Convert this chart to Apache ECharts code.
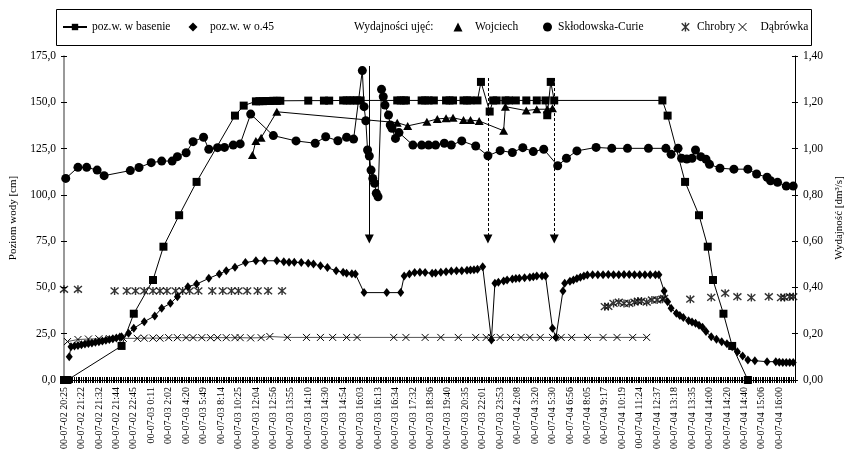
<!DOCTYPE html>
<html>
<head>
<meta charset="utf-8">
<script src="https://cdn.jsdelivr.net/npm/echarts@6/dist/echarts.min.js"></script>
<style>
  html, body { margin: 0; padding: 0; background: #fff; }
  #chart { width: 853px; height: 457px; }
</style>
</head>
<body>
<div id="chart"></div>
<script>
// tick labels, one for every 10th measurement
const tickLabels = [
  '00-07-02 20:25', '00-07-02 21:22', '00-07-02 21:32', '00-07-02 21:44', '00-07-02 22:45',
  '00-07-03 0:11', '00-07-03 2:02', '00-07-03 4:20', '00-07-03 5:49', '00-07-03 8:14',
  '00-07-03 10:25', '00-07-03 12:04', '00-07-03 12:56', '00-07-03 13:55', '00-07-03 14:10',
  '00-07-03 14:30', '00-07-03 14:54', '00-07-03 16:03', '00-07-03 16:13', '00-07-03 16:34',
  '00-07-03 17:32', '00-07-03 18:36', '00-07-03 19:40', '00-07-03 20:35', '00-07-03 22:01',
  '00-07-03 23:53', '00-07-04 2:08', '00-07-04 3:20', '00-07-04 5:30', '00-07-04 6:56',
  '00-07-04 8:05', '00-07-04 9:17', '00-07-04 10:19', '00-07-04 11:24', '00-07-04 12:37',
  '00-07-04 13:18', '00-07-04 13:35', '00-07-04 14:00', '00-07-04 14:20', '00-07-04 14:40',
  '00-07-04 15:06', '00-07-04 16:00'
];
const nCategories = 420;

// [measurement index, value]
// poz.w. w basenie [cm]
const basen = [
  [0, 0], [2, 0], [33, 18.4], [40, 35.8], [51, 54], [57, 72], [66, 89], [76, 107], [98, 142.8], [103, 148.2],
  [110, 150.5], [112, 150.6], [114, 150.6], [116, 150.7], [118, 150.7], [120, 150.8], [122, 150.8], [124, 150.8],
  [140, 150.9], [149, 150.9], [152, 150.9],
  [160, 151], [162, 151], [164, 151], [166, 151], [168, 151], [170, 151],
  [191, 151], [193, 151], [195, 151], [196, 151],
  [205, 151], [207, 151], [209, 151], [212, 151],
  [219, 151], [221, 151], [223, 151],
  [229, 151], [231, 151], [233, 151],
  [237, 151], [239, 161], [244, 145], [246, 151], [248, 151],
  [253, 151], [255, 151], [259, 151], [265, 151], [271, 151],
  [276, 151], [277, 143], [279, 161], [281, 151],
  [343, 151], [346, 142.8], [356, 107], [364, 89], [369, 72], [372, 54], [378, 35.8], [383, 18.4], [392, 0]
];

// poz.w. w o.45 [cm]
const o45 = [
  [3, 12.6], [4, 18.0], [6, 18.4], [8, 18.7], [10, 19.0], [12, 19.4], [14, 19.7], [16, 20.0], [18, 20.4],
  [20, 20.7], [22, 21.1], [24, 21.5], [26, 21.9], [28, 22.3], [30, 22.7], [32, 23.2], [33, 23.4], [37, 25.2],
  [40, 27.9], [46, 31.5], [52, 34.6], [56, 38.7], [61, 41.4], [65, 45], [71, 50.4], [76, 51.8], [83, 54.9],
  [89, 57.3], [93, 59], [98, 60.9], [104, 63.4], [110, 64.4], [115, 64.4], [122, 64.4], [126, 63.9], [129, 63.6],
  [132, 63.6], [136, 63.4], [140, 63], [143, 62.6], [147, 61.7], [151, 60.7], [156, 59], [160, 58.2], [162, 57.6],
  [165, 57.4], [167, 57.3], [172, 47.2], [185, 47.2], [193, 47.2], [195, 56.2], [198, 57.2], [201, 58], [204, 58.2],
  [207, 58], [211, 57.6], [213, 57.8], [216, 58.2], [219, 58.5], [222, 58.9], [225, 59], [228, 59], [231, 59.3],
  [233, 59.4], [235, 59.6], [237, 59.8], [240, 61.2], [245, 21.6], [247, 52.2], [249, 52.8], [252, 53.5], [254, 54],
  [257, 54.6], [259, 54.8], [261, 54.9], [264, 55.2], [267, 55.5], [269, 55.8], [271, 56.2], [274, 56.2], [276, 56.2],
  [280, 27.9], [282, 23], [286, 48.1], [287, 52.2], [290, 53.4], [292, 54], [294, 54.8], [296, 55.5], [298, 56.2],
  [300, 56.7], [303, 56.8], [306, 56.9], [309, 56.9], [312, 57], [315, 56.9], [318, 56.9], [321, 57], [324, 57],
  [327, 56.9], [330, 56.9], [333, 56.9], [336, 56.9], [339, 56.9], [341, 56.8], [344, 48.1], [346, 42.3], [348, 38.7],
  [351, 36], [353, 34.8], [355, 33.8], [358, 32], [360, 31.3], [362, 30.6], [364, 29.6], [366, 28.5], [368, 26.2],
  [371, 23.4], [374, 22], [377, 20.7], [380, 19.6], [383, 18], [386, 15.3], [389, 13], [392, 10.8], [396, 10.4],
  [403, 9.9], [408, 9.9], [410, 9.6], [412, 9.5], [414, 9.5], [416, 9.5], [418, 9.4]
];

// Wydajnosc [dm3/s]
const wojciech = [
  [108, 0.972], [110, 1.033], [113, 1.047], [122, 1.159], [191, 1.112], [197, 1.098], [208, 1.116], [214, 1.128],
  [219, 1.131], [223, 1.133], [229, 1.123], [233, 1.123], [238, 1.119], [252, 1.077], [253, 1.181], [265, 1.164],
  [271, 1.17], [277, 1.17], [280, 1.174]
];

const sklodowska = [
  [1, 0.871], [8, 0.919], [13, 0.919], [19, 0.907], [23, 0.883], [38, 0.905], [43, 0.918], [50, 0.939], [56, 0.946],
  [62, 0.946], [65, 0.965], [70, 0.982], [74, 1.03], [80, 1.049], [83, 0.997], [88, 1.004], [92, 1.005], [97, 1.015],
  [101, 1.02], [107, 1.149], [120, 1.056], [133, 1.033], [144, 1.023], [150, 1.051], [157, 1.034], [162, 1.049],
  [166, 1.041], [171, 1.337], [172, 1.181], [173, 1.12], [174, 0.994], [175, 0.968], [176, 0.907], [177, 0.871],
  [178, 0.85], [179, 0.807], [180, 0.792], [182, 1.256], [183, 1.224], [184, 1.188], [186, 1.145], [187, 1.102],
  [188, 1.088], [190, 1.044], [192, 1.069], [200, 1.015], [205, 1.015], [209, 1.015], [213, 1.015], [218, 1.023],
  [222, 1.015], [228, 1.033], [236, 1.011], [243, 0.969], [250, 0.991], [257, 0.983], [263, 1.004], [269, 0.987],
  [275, 0.997], [283, 0.926], [288, 0.958], [294, 0.99], [305, 1.005], [314, 1.001], [323, 1.001], [335, 1.001],
  [345, 1.001], [348, 0.975], [352, 1.001], [354, 0.958], [357, 0.955], [360, 0.958], [362, 0.994], [365, 0.965],
  [368, 0.954], [370, 0.932], [376, 0.915], [384, 0.911], [392, 0.911], [397, 0.89], [403, 0.876], [405, 0.861],
  [409, 0.854], [414, 0.838], [418, 0.838]
];

const chrobry = [
  [0, 0.392], [8, 0.392], [29, 0.385], [36, 0.385], [41, 0.385], [46, 0.385], [51, 0.385], [55, 0.385], [59, 0.385],
  [64, 0.385], [68, 0.385], [72, 0.385], [77, 0.385], [85, 0.385], [91, 0.385], [96, 0.385], [100, 0.385],
  [105, 0.385], [111, 0.385], [117, 0.385], [125, 0.385],
  [310, 0.317], [312, 0.318], [315, 0.331], [318, 0.336], [321, 0.331], [324, 0.331], [327, 0.336], [329, 0.341],
  [331, 0.341], [334, 0.336], [337, 0.346], [340, 0.346], [343, 0.349], [344, 0.353], [359, 0.349], [371, 0.357],
  [379, 0.375], [386, 0.36], [394, 0.356], [404, 0.36], [411, 0.356], [413, 0.357], [416, 0.36], [418, 0.36]
];

const dabrowka = [
  [2, 0.166], [8, 0.175], [14, 0.177], [20, 0.178], [26, 0.179], [34, 0.18], [42, 0.18], [46, 0.181], [51, 0.181],
  [55, 0.181], [60, 0.183], [65, 0.183], [70, 0.183], [74, 0.183], [79, 0.183], [84, 0.183], [88, 0.183], [93, 0.183],
  [98, 0.183], [101, 0.183], [107, 0.182], [113, 0.183], [118, 0.188], [128, 0.184], [139, 0.184], [147, 0.184],
  [154, 0.184], [162, 0.184], [168, 0.184], [189, 0.184], [196, 0.184], [207, 0.184], [216, 0.184], [226, 0.184],
  [236, 0.184], [242, 0.184], [245, 0.184], [250, 0.184], [256, 0.184], [262, 0.184], [267, 0.184], [273, 0.184],
  [280, 0.184], [285, 0.184], [291, 0.184], [300, 0.184], [309, 0.184], [317, 0.184], [326, 0.184], [334, 0.184]
];

// arrows: [index, top value, bottom value, dashed]
const arrows = [
  [175, 169.6, 76.2, false],
  [243, 163.1, 76.2, true],
  [281, 163.1, 76.2, true]
];

const FONT = 'Liberation Serif';
const ASTERISK = 'path://M0,0L10,10M10,0L0,10M5,-1L5,11';
const CROSS = 'path://M0,0L10,10M10,0L0,10';

const categories = [];
for (let i = 0; i < nCategories; i++) {
  categories.push(i % 10 === 0 ? tickLabels[i / 10] : '');
}

const strokeOnly = { color: 'transparent', borderColor: '#000', borderWidth: 1 };
const strokeBold = { color: 'transparent', borderColor: '#000', borderWidth: 1.4 };

// one legend per entry so each can sit where the original has it
function legendAt(name, left, itemWidth, textPad, extra) {
  return Object.assign({
    data: [name],
    left: left,
    top: 21,
    padding: 0,
    itemWidth: itemWidth,
    itemHeight: 9,
    selectedMode: false,
    textStyle: { fontFamily: FONT, fontSize: 11.5, color: '#000', padding: [0, 0, 0, textPad] }
  }, extra || {});
}

const chart = echarts.init(document.getElementById('chart'));

const option = {
  animation: false,
  backgroundColor: '#fff',
  textStyle: { fontFamily: FONT },
  graphic: [
    {
      type: 'rect',
      shape: { x: 56.5, y: 9.5, width: 755, height: 36 },
      style: { fill: 'none', stroke: '#000', lineWidth: 1 }
    },
    {
      type: 'text',
      left: 354,
      top: 21,
      style: { text: 'Wydajności ujęć:', font: '11.5px "Liberation Serif"', fill: '#000' }
    }
  ],
  legend: [
    legendAt('poz.w. w basenie', 62, 24, 0, { itemHeight: 8 }),
    legendAt('poz.w. w o.45', 188.5, 9, 7.5, { data: [{ name: 'poz.w. w o.45', icon: 'diamond' }] }),
    legendAt('Wojciech', 453.5, 9, 7.5, { data: [{ name: 'Wojciech', icon: 'triangle' }] }),
    legendAt('Skłodowska-Curie', 543, 9, 1, { data: [{ name: 'Skłodowska-Curie', icon: 'circle' }] }),
    legendAt('Chrobry', 681, 9, 2, { data: [{ name: 'Chrobry', icon: ASTERISK, itemStyle: strokeBold }] }),
    legendAt('Dąbrówka', 738, 8, 9, { itemHeight: 8, data: [{ name: 'Dąbrówka', icon: CROSS, itemStyle: strokeOnly }] })
  ],
  grid: { left: 61, right: 45, top: 56, bottom: 77 },
  xAxis: [
    {
      type: 'category',
      data: categories,
      boundaryGap: false,
      position: 'bottom',
      axisLine: { lineStyle: { color: '#000', width: 1 } },
      axisTick: { interval: 0, length: 3, lineStyle: { color: '#000' } },
      axisLabel: {
        interval: 9,
        rotate: 90,
        margin: 7,
        fontFamily: FONT,
        fontSize: 10,
        color: '#000'
      }
    },
    {
      type: 'category',
      data: categories,
      boundaryGap: false,
      position: 'bottom',
      axisLine: { show: false },
      axisTick: { interval: 0, inside: true, length: 3, lineStyle: { color: '#000' } },
      axisLabel: { show: false }
    }
  ],
  yAxis: [
    {
      type: 'value',
      position: 'left',
      min: 0,
      max: 175,
      interval: 25,
      name: 'Poziom wody [cm]',
      nameLocation: 'middle',
      nameRotate: 90,
      nameGap: 45,
      nameTextStyle: { fontFamily: FONT, fontSize: 11, color: '#000' },
      splitLine: { show: false },
      axisLine: { show: true, lineStyle: { color: '#777', width: 1.5 } },
      axisTick: { show: true, length: 3, lineStyle: { color: '#000' } },
      axisLabel: {
        margin: 8,
        fontFamily: FONT,
        fontSize: 11.5,
        color: '#000',
        formatter: v => v.toFixed(1).replace('.', ',')
      }
    },
    {
      type: 'value',
      position: 'right',
      min: 0,
      max: 1.4,
      interval: 0.2,
      name: 'Wydajność [dm³/s]',
      nameLocation: 'middle',
      nameRotate: 90,
      nameGap: 35,
      nameTextStyle: { fontFamily: FONT, fontSize: 11, color: '#000' },
      splitLine: { show: false },
      axisLine: { show: true, lineStyle: { color: '#000', width: 1 } },
      axisTick: { show: true, length: 3, lineStyle: { color: '#000' } },
      axisLabel: {
        margin: 8,
        fontFamily: FONT,
        fontSize: 11.5,
        color: '#000',
        formatter: v => v.toFixed(2).replace('.', ',')
      }
    },
    {
      type: 'value', position: 'left', min: 0, max: 175, interval: 25,
      splitLine: { show: false }, axisLine: { show: false }, axisLabel: { show: false },
      axisTick: { show: true, inside: true, length: 3, lineStyle: { color: '#000' } }
    },
    {
      type: 'value', position: 'right', min: 0, max: 1.4, interval: 0.2,
      splitLine: { show: false }, axisLine: { show: false }, axisLabel: { show: false },
      axisTick: { show: true, inside: true, length: 3, lineStyle: { color: '#000' } }
    }
  ],
  series: [
    {
      name: 'poz.w. w basenie',
      type: 'line',
      yAxisIndex: 0,
      data: basen,
      symbol: 'rect',
      symbolSize: 8,
      showAllSymbol: true,
      itemStyle: { color: '#000' },
      lineStyle: { color: '#000', width: 1 },
      markLine: {
        silent: true,
        animation: false,
        symbol: ['none', 'triangle'],
        symbolSize: 9,
        label: { show: false },
        data: arrows.map(a => [
          { coord: [a[0], a[1]], lineStyle: { color: '#000', width: 1, type: a[3] ? [3, 2] : 'solid' } },
          { coord: [a[0], a[2]] }
        ])
      }
    },
    {
      name: 'poz.w. w o.45',
      type: 'line',
      yAxisIndex: 0,
      data: o45,
      symbol: 'diamond',
      symbolSize: [7, 9],
      showAllSymbol: true,
      itemStyle: { color: '#000' },
      lineStyle: { color: '#000', width: 1 }
    },
    {
      name: 'Wojciech',
      type: 'line',
      yAxisIndex: 1,
      data: wojciech,
      symbol: 'triangle',
      symbolSize: [9, 8],
      showAllSymbol: true,
      itemStyle: { color: '#000' },
      lineStyle: { color: '#000', width: 1 }
    },
    {
      name: 'Skłodowska-Curie',
      type: 'line',
      yAxisIndex: 1,
      data: sklodowska,
      symbol: 'circle',
      symbolSize: 9,
      showAllSymbol: true,
      itemStyle: { color: '#000' },
      lineStyle: { color: '#000', width: 1 }
    },
    {
      name: 'Chrobry',
      type: 'scatter',
      yAxisIndex: 1,
      data: chrobry,
      symbol: ASTERISK,
      symbolSize: 8,
      itemStyle: strokeBold
    },
    {
      name: 'Dąbrówka',
      type: 'line',
      yAxisIndex: 1,
      data: dabrowka,
      symbol: CROSS,
      symbolSize: 7,
      showAllSymbol: true,
      itemStyle: strokeOnly,
      lineStyle: { color: '#555', width: 1 }
    }
  ]
};

chart.setOption(option);
</script>
</body>
</html>
